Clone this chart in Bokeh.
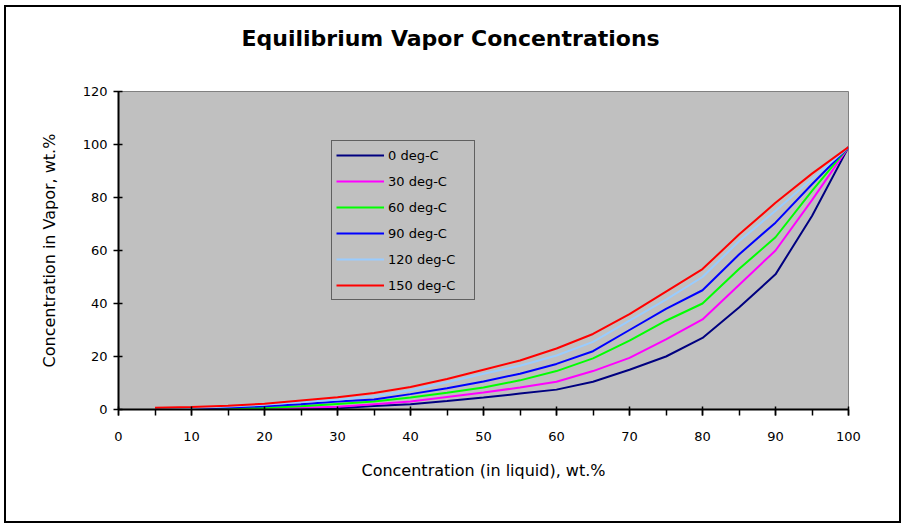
from bokeh.plotting import figure
from bokeh.models import Legend, LegendItem, SingleIntervalTicker, Range1d, Title
from bokeh.embed import file_html
from bokeh.resources import INLINE

# ---- data ----
x_liquid = [5, 10, 15, 20, 25, 30, 35, 40, 45, 50, 55, 60, 65, 70, 75, 80, 85, 90, 95, 100]
vap_0   = [0.0, 0.1, 0.2, 0.3, 0.3, 0.5, 1.3, 2.0, 3.2, 4.5, 6.0, 7.5, 10.5, 15.0, 20.0, 27.0, 38.5, 51.0, 73.0, 99.0]
vap_30  = [0.1, 0.2, 0.3, 0.4, 0.7, 1.0, 2.0, 3.0, 4.7, 6.4, 8.3, 10.5, 14.5, 19.5, 26.5, 34.0, 47.0, 60.0, 79.0, 99.0]
vap_60  = [0.2, 0.3, 0.5, 0.6, 1.2, 2.1, 3.0, 4.5, 6.3, 8.3, 11.0, 14.5, 19.3, 26.0, 33.5, 40.0, 53.0, 65.0, 82.5, 99.0]
vap_90  = [0.3, 0.4, 0.8, 1.2, 2.0, 3.0, 3.8, 5.8, 8.0, 10.6, 13.5, 17.2, 22.0, 30.0, 38.0, 45.0, 58.5, 70.5, 85.0, 99.0]
vap_120 = [0.5, 0.6, 1.1, 1.8, 2.8, 3.7, 5.0, 7.3, 10.3, 13.5, 16.5, 20.4, 25.5, 33.5, 41.5, 50.0, 63.5, 75.0, 87.0, 99.0]
vap_150 = [0.7, 0.9, 1.4, 2.2, 3.4, 4.6, 6.2, 8.5, 11.5, 15.0, 18.5, 23.0, 28.5, 36.0, 44.5, 53.0, 66.0, 78.0, 89.0, 99.0]

series_names = ["0 deg-C", "30 deg-C", "60 deg-C", "90 deg-C", "120 deg-C", "150 deg-C"]
series_values = [vap_0, vap_30, vap_60, vap_90, vap_120, vap_150]
series_colors = ["#000080", "#FF00FF", "#00FF00", "#0000FF", "#99CCFF", "#FF0000"]

title_text = "Equilibrium Vapor Concentrations"
x_label = "Concentration (in liquid), wt.%"
y_label = "Concentration in Vapor, wt.%"

FONT = "DejaVu Sans"

p = figure(width=897, height=518, output_backend="svg", toolbar_location=None,
           x_range=Range1d(0, 100), y_range=Range1d(0, 120), title=title_text)
p.styles = {"border": "2px solid #000000", "margin-left": "4px", "margin-top": "5px"}
p.min_border_left = 112
p.min_border_right = 55
p.min_border_top = 84
p.min_border_bottom = 116
p.background_fill_color = "#C0C0C0"
p.border_fill_color = "#FFFFFF"
p.outline_line_color = "#808080"
p.outline_line_width = 1
p.xgrid.visible = False
p.ygrid.visible = False

# title
p.title.align = "left"
p.title.offset = 123
p.title.standoff = 0
p.title.text_font = FONT
p.title.text_font_size = "22px"
p.title.text_font_style = "bold"
p.title.text_color = "#000000"

# spacer between the title and the plot area
spacer = Title(text=" ", text_font=FONT, text_font_size="22px", standoff=14)
p.add_layout(spacer, "above")

# axes
p.xaxis.ticker = SingleIntervalTicker(interval=10, num_minor_ticks=2)
p.yaxis.ticker = SingleIntervalTicker(interval=20, num_minor_ticks=0)
for ax in (p.xaxis[0], p.yaxis[0]):
    ax.axis_line_color = "#000000"
    ax.axis_line_width = 2
    ax.major_tick_line_color = "#000000"
    ax.major_tick_line_width = 1.5
    ax.minor_tick_line_color = "#000000"
    ax.minor_tick_line_width = 1.5
    ax.major_label_text_font = FONT
    ax.major_label_text_font_size = "13px"
    ax.major_label_text_color = "#000000"
    ax.axis_label_text_font = FONT
    ax.axis_label_text_font_size = "16px"
    ax.axis_label_text_font_style = "normal"
    ax.axis_label_text_color = "#000000"

p.xaxis.axis_label = x_label
p.yaxis.axis_label = y_label
p.xaxis.major_tick_in = 3
p.xaxis.major_tick_out = 6
p.xaxis.minor_tick_in = 0
p.xaxis.minor_tick_out = 6
p.xaxis.major_label_standoff = 16
p.xaxis.axis_label_standoff = 17
p.yaxis.major_tick_in = 4
p.yaxis.major_tick_out = 5
p.yaxis.minor_tick_in = 0
p.yaxis.minor_tick_out = 0
p.yaxis.major_label_standoff = 6
p.yaxis.axis_label_standoff = 21

# lines
items = []
for name, vals, col in zip(series_names, series_values, series_colors):
    r = p.line(x_liquid, vals, line_color=col, line_width=2)
    items.append(LegendItem(label=name, renderers=[r]))

legend = Legend(items=items, location=(213, 109))
legend.label_text_font = FONT
legend.label_text_font_size = "13px"
legend.label_text_color = "#000000"
legend.glyph_width = 48
legend.glyph_height = 20
legend.label_height = 20
legend.label_width = 82
legend.spacing = 6
legend.padding = 4
legend.margin = 0
legend.label_standoff = 4
legend.border_line_color = "#000000"
legend.border_line_width = 1
legend.background_fill_color = "#C0C0C0"
legend.background_fill_alpha = 1.0
p.add_layout(legend, "center")

open("out.html", "w").write(file_html(p, INLINE))
